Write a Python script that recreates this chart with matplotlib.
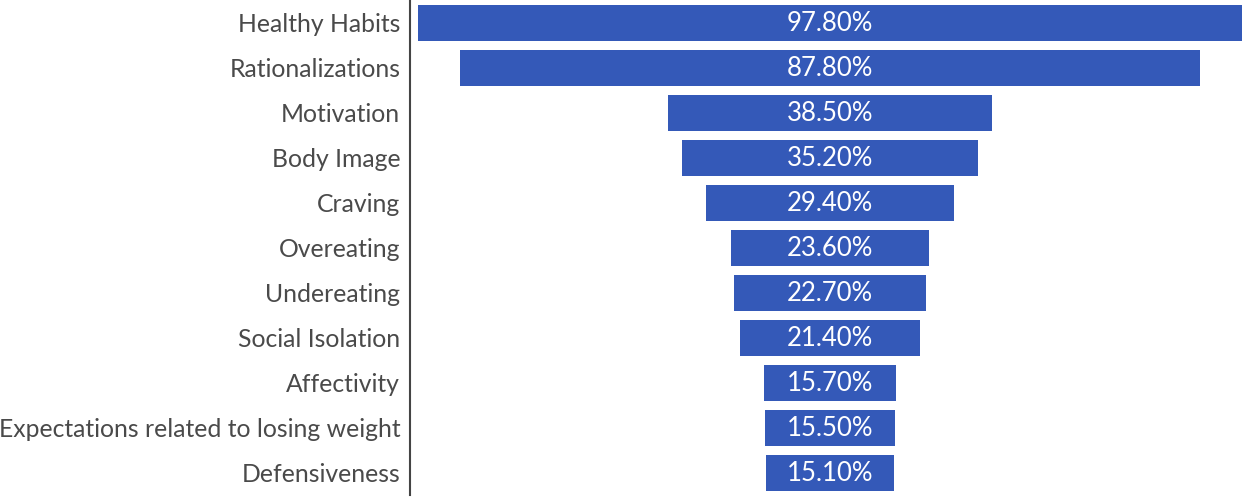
import matplotlib
matplotlib.use("Agg")
import matplotlib.pyplot as plt

# Funnel of themes, share of mentions
categories = ["Healthy Habits", "Rationalizations", "Motivation", "Body Image",
              "Craving", "Overeating", "Undereating", "Social Isolation",
              "Affectivity", "Expectations related to losing weight",
              "Defensiveness"]
values = [97.8, 87.8, 38.5, 35.2, 29.4, 23.6, 22.7, 21.4, 15.7, 15.5, 15.1]

bar_color = "#3459b8"
text_color = "#4a4a4a"

plt.rcParams["font.family"] = ["Lato", "DejaVu Sans"]

fig = plt.figure(figsize=(12.5, 4.98), dpi=100)
ax = fig.add_axes([0.328, 0.006, 0.672, 0.994])

y = list(range(len(categories)))
lefts = [-v / 2 for v in values]
ax.barh(y, values, left=lefts, height=0.8, color=bar_color)

for yi, v in zip(y, values):
    ax.text(0, yi + 0.02, f"{v:.2f}%", ha="center", va="center",
            color="white", fontsize=18.5)

ax.set_yticks(y)
ax.set_yticklabels(categories, fontsize=17.8, color=text_color)
ax.tick_params(axis="y", length=0, pad=7)
ax.set_xticks([])
ax.set_ylim(len(categories) - 0.5, -0.5)
ax.set_xlim(-49.85, 49.85)

for side in ["top", "right", "bottom"]:
    ax.spines[side].set_visible(False)
ax.spines["left"].set_color("#444444")
ax.spines["left"].set_linewidth(1.5)

fig.savefig("out.png", dpi=100)
